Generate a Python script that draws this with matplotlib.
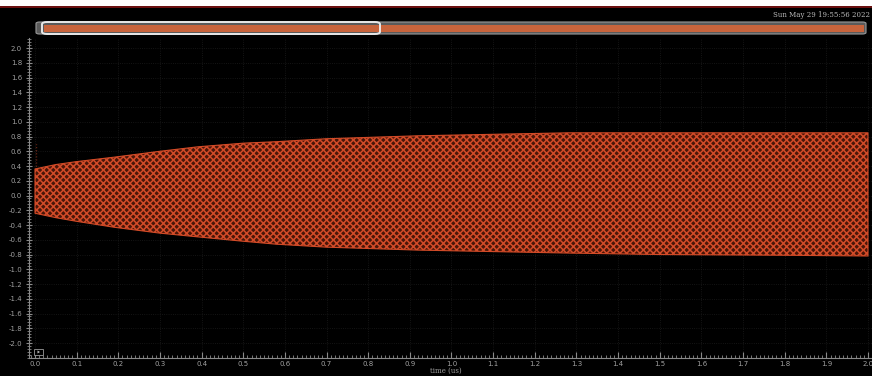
import matplotlib
matplotlib.use("Agg")
import matplotlib.pyplot as plt
from matplotlib.patches import Rectangle, FancyBboxPatch, Polygon
from matplotlib.ticker import MultipleLocator, FixedLocator, FormatStrFormatter

# ---- data (envelope of the oscillation) ----
time_us = [0.0, 0.05, 0.10, 0.19, 0.30, 0.39, 0.50, 0.58, 0.70, 0.92, 1.10, 1.28, 1.50, 1.80, 2.0]
upper_v = [0.36, 0.42, 0.46, 0.52, 0.60, 0.66, 0.71, 0.73, 0.77, 0.81, 0.83, 0.85, 0.85, 0.85, 0.85]
lower_v = [-0.24, -0.30, -0.35, -0.43, -0.51, -0.56, -0.62, -0.66, -0.70, -0.74, -0.76, -0.78, -0.80, -0.81, -0.82]
marker_t = [0.003, 0.003]
marker_v = [0.40, 0.70]
y_ticks = [-2.0, -1.8, -1.6, -1.4, -1.2, -1.0, -0.8, -0.6, -0.4, -0.2, 0.0,
           0.2, 0.4, 0.6, 0.8, 1.0, 1.2, 1.4, 1.6, 1.8, 2.0]
x_ticks = [0.0, 0.1, 0.2, 0.3, 0.4, 0.5, 0.6, 0.7, 0.8, 0.9, 1.0,
           1.1, 1.2, 1.3, 1.4, 1.5, 1.6, 1.7, 1.8, 1.9, 2.0]
date_text = "Sun May 29 19:55:56 2022"
x_label = "time (us)"

W, H = 872, 376
ORANGE = "#d24b28"
GRAY = "#a0a0a0"

plt.rcParams["hatch.linewidth"] = 1.1
fig = plt.figure(figsize=(W / 100, H / 100), dpi=100, facecolor="black")

def fx(px):
    return px / W

def fy(py):
    return 1 - py / H

# top white strip & dark red border
fig.patches.append(Rectangle((0, fy(6)), 1, 6 / H, transform=fig.transFigure,
                             facecolor="white", edgecolor="none"))
fig.patches.append(Rectangle((0, fy(7.5)), 1, 1.8 / H, transform=fig.transFigure,
                             facecolor="#6a1010", edgecolor="none"))

# axes
ax = fig.add_axes([fx(29), fy(358), 1 - fx(29), fy(38) - fy(358)])
ax.set_facecolor("black")
ax.set_axisbelow(True)
ax.set_xlim(-0.0144, 2.0096)
ax.set_ylim(-2.203, 2.136)

ax.fill_between(time_us, lower_v, upper_v, facecolor="#4a1609", edgecolor=ORANGE,
                hatch="xxxxx", linewidth=0.8, zorder=2)
ax.plot(marker_t, marker_v, linestyle=(0, (0.6, 1.6)), color=ORANGE, lw=1.0, alpha=0.7,
        zorder=2)

ax.xaxis.set_major_locator(FixedLocator(x_ticks))
ax.xaxis.set_minor_locator(MultipleLocator(0.01))
ax.yaxis.set_major_locator(FixedLocator(y_ticks))
ax.yaxis.set_minor_locator(MultipleLocator(0.04))
ax.xaxis.set_major_formatter(FormatStrFormatter("%.1f"))
ax.yaxis.set_major_formatter(FormatStrFormatter("%.1f"))
ax.grid(True, which="major", color="#1c1c1c", linestyle=":", linewidth=0.6, zorder=0)

for s in ["top", "right"]:
    ax.spines[s].set_visible(False)
for s in ["left", "bottom"]:
    ax.spines[s].set_color("#8a8a8a")
    ax.spines[s].set_linewidth(0.8)

ax.tick_params(axis="both", which="both", colors="#8a8a8a", labelcolor=GRAY,
               labelsize=5, direction="inout")
ax.tick_params(axis="y", which="major", length=4, pad=3)
ax.tick_params(axis="y", which="minor", length=2.5)
ax.tick_params(axis="x", which="major", length=4, pad=2, direction="in")
ax.tick_params(axis="x", which="minor", length=2.2, direction="in")

fig.text(fx(446), fy(371), x_label, color=GRAY, fontsize=5, ha="center", va="center",
         family="DejaVu Serif")

# date text
fig.text(fx(870), fy(15), date_text, color="#b8b8b8", fontsize=5, ha="right", va="center",
         family="DejaVu Serif")

# scroll / overview bar
fig.patches.append(FancyBboxPatch((fx(36), fy(34)), fx(866) - fx(36), 12 / H,
                                  boxstyle="round,pad=0,rounding_size=0.004",
                                  transform=fig.transFigure, facecolor="#5a5a5a",
                                  edgecolor="#9a9a9a", linewidth=0.8))
fig.patches.append(Rectangle((fx(44), fy(31.5)), fx(864) - fx(44), 7 / H,
                             transform=fig.transFigure, facecolor="#c8643c",
                             edgecolor="none"))
fig.patches.append(FancyBboxPatch((fx(42), fy(34)), fx(380) - fx(42), 12 / H,
                                  boxstyle="round,pad=0,rounding_size=0.006",
                                  transform=fig.transFigure, facecolor="none",
                                  edgecolor="#e8e8e8", linewidth=1.4))

# small play box at the bottom-left
fig.patches.append(Rectangle((fx(34), fy(355)), 9 / W, 6 / H, transform=fig.transFigure,
                             facecolor="black", edgecolor="#9a9a9a", linewidth=0.6))
fig.patches.append(Polygon([[fx(37.5), fy(353.5)], [fx(37.5), fy(350.5)], [fx(40), fy(352)]],
                           closed=True, transform=fig.transFigure, facecolor="#bbbbbb",
                           edgecolor="none"))

fig.savefig("out.png", dpi=100, facecolor="black")
